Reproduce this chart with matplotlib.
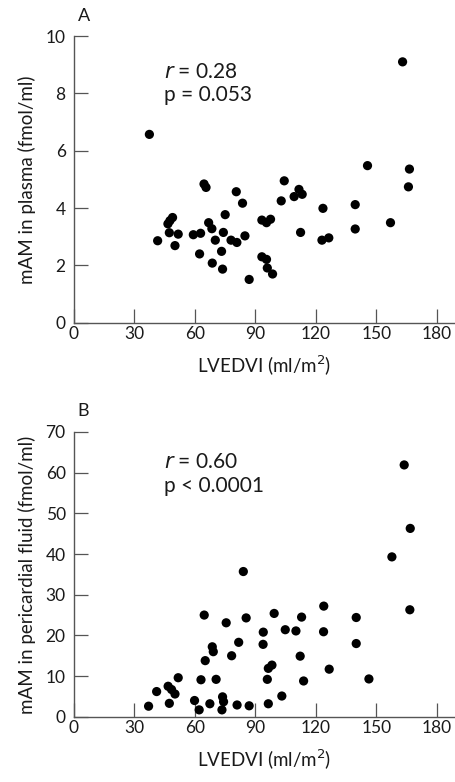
import matplotlib
matplotlib.use("Agg")
import matplotlib.pyplot as plt

plt.rcParams['font.family'] = ['Lato', 'DejaVu Sans']

# panel A: LVEDVI vs plasma mAM
lvedvi_a = [37.4, 64.5, 65.5, 80.5, 83.6, 75.0, 48.9, 47.6, 46.6, 66.8,
            68.4, 47.3, 51.7, 59.2, 62.8, 74.1, 70.1, 77.9, 80.8, 84.8,
            41.5, 50.1, 62.3, 73.2, 68.6, 73.7, 86.9, 93.2, 95.5, 97.5,
            93.2, 95.5, 95.9, 98.5, 163.0, 145.6, 166.4, 165.9, 104.3, 111.6,
            113.2, 109.2, 102.8, 123.5, 139.5, 157.0, 112.4, 139.5, 123.0, 126.4]
plasma = [6.57, 4.84, 4.72, 4.57, 4.17, 3.77, 3.67, 3.56, 3.45, 3.49,
          3.28, 3.14, 3.09, 3.07, 3.12, 3.15, 2.88, 2.88, 2.80, 3.03,
          2.86, 2.69, 2.40, 2.49, 2.08, 1.87, 1.51, 3.58, 3.49, 3.61,
          2.30, 2.21, 1.91, 1.70, 9.10, 5.48, 5.36, 4.74, 4.95, 4.65,
          4.48, 4.40, 4.25, 3.99, 4.12, 3.49, 3.15, 3.27, 2.88, 2.96]

# panel B: LVEDVI vs pericardial fluid mAM
lvedvi_b = [84.0, 64.6, 75.5, 85.4, 93.9, 93.8, 68.6, 69.1, 81.7, 78.2,
            65.1, 51.7, 63.0, 70.5, 46.7, 48.4, 41.0, 50.1, 37.0, 47.3,
            59.8, 62.1, 67.4, 73.7, 74.2, 73.4, 80.9, 86.9, 96.4, 98.2,
            95.9, 96.4, 163.8, 166.8, 157.7, 166.6, 123.9, 99.3, 112.9, 140.0,
            104.8, 110.1, 123.8, 140.0, 112.2, 126.6, 113.9, 146.3, 103.1]
pericardial = [35.7, 25.0, 23.1, 24.3, 20.8, 17.8, 17.2, 16.0, 18.3, 15.0,
               13.8, 9.6, 9.1, 9.2, 7.5, 6.7, 6.2, 5.6, 2.6, 3.3,
               4.0, 1.7, 3.2, 4.9, 3.7, 1.7, 2.9, 2.7, 11.9, 12.7,
               9.2, 3.2, 61.9, 46.3, 39.3, 26.3, 27.2, 25.4, 24.5, 24.4,
               21.4, 21.1, 20.9, 18.0, 14.9, 11.7, 8.8, 9.3, 5.1]

x_ticks = [0, 30, 60, 90, 120, 150, 180]
ya_ticks = [0, 2, 4, 6, 8, 10]
yb_ticks = [0, 10, 20, 30, 40, 50, 60, 70]

fig = plt.figure(figsize=(4.55, 7.82), dpi=100)
ax_a = fig.add_axes([0.1626, 0.5873, 0.8374, 0.3666])
ax_b = fig.add_axes([0.1626, 0.0834, 0.8374, 0.3642])

axis_col = '#555555'
text_col = '#1a1a1a'


def style(ax, xs, ys, yticks, ylim, ylabel):
    ax.scatter(xs, ys, s=44, color='black', edgecolors='none',
               clip_on=False, zorder=3)
    ax.set_xlim(0, 189)
    ax.set_ylim(*ylim)
    ax.set_xticks(x_ticks)
    ax.set_yticks(yticks)
    for side in ['top', 'right']:
        ax.spines[side].set_visible(False)
    for side in ['left', 'bottom']:
        ax.spines[side].set_color(axis_col)
        ax.spines[side].set_linewidth(1.0)
    ax.tick_params(direction='in', length=10, width=0.9, color=axis_col,
                   labelsize=12.5, labelcolor=text_col)
    ax.tick_params(axis='x', pad=2)
    ax.tick_params(axis='y', pad=6)
    ax.set_xlabel('LVEDVI (ml/m$^2$)', fontsize=13.5, labelpad=9, color=text_col)
    ax.set_ylabel(ylabel, fontsize=13.5, labelpad=7, color=text_col)


style(ax_a, lvedvi_a, plasma, ya_ticks, (0, 10), 'mAM in plasma (fmol/ml)')
style(ax_b, lvedvi_b, pericardial, yb_ticks, (0, 70),
      'mAM in pericardial fluid (fmol/ml)')

ax_a.text(0.236, 0.875, '$\\it{r}$ = 0.28', transform=ax_a.transAxes,
          fontsize=15, va='center', color=text_col)
ax_a.text(0.236, 0.795, 'p = 0.053', transform=ax_a.transAxes,
          fontsize=15, va='center', color=text_col)
ax_b.text(0.236, 0.895, '$\\it{r}$ = 0.60', transform=ax_b.transAxes,
          fontsize=15, va='center', color=text_col)
ax_b.text(0.236, 0.81, 'p < 0.0001', transform=ax_b.transAxes,
          fontsize=15, va='center', color=text_col)

fig.text(84 / 455, 1 - 16 / 782, 'A', fontsize=13, ha='center', va='center',
         color=text_col)
fig.text(83 / 455, 1 - 411 / 782, 'B', fontsize=13, ha='center', va='center',
         color=text_col)

fig.savefig('out.png', dpi=100)
